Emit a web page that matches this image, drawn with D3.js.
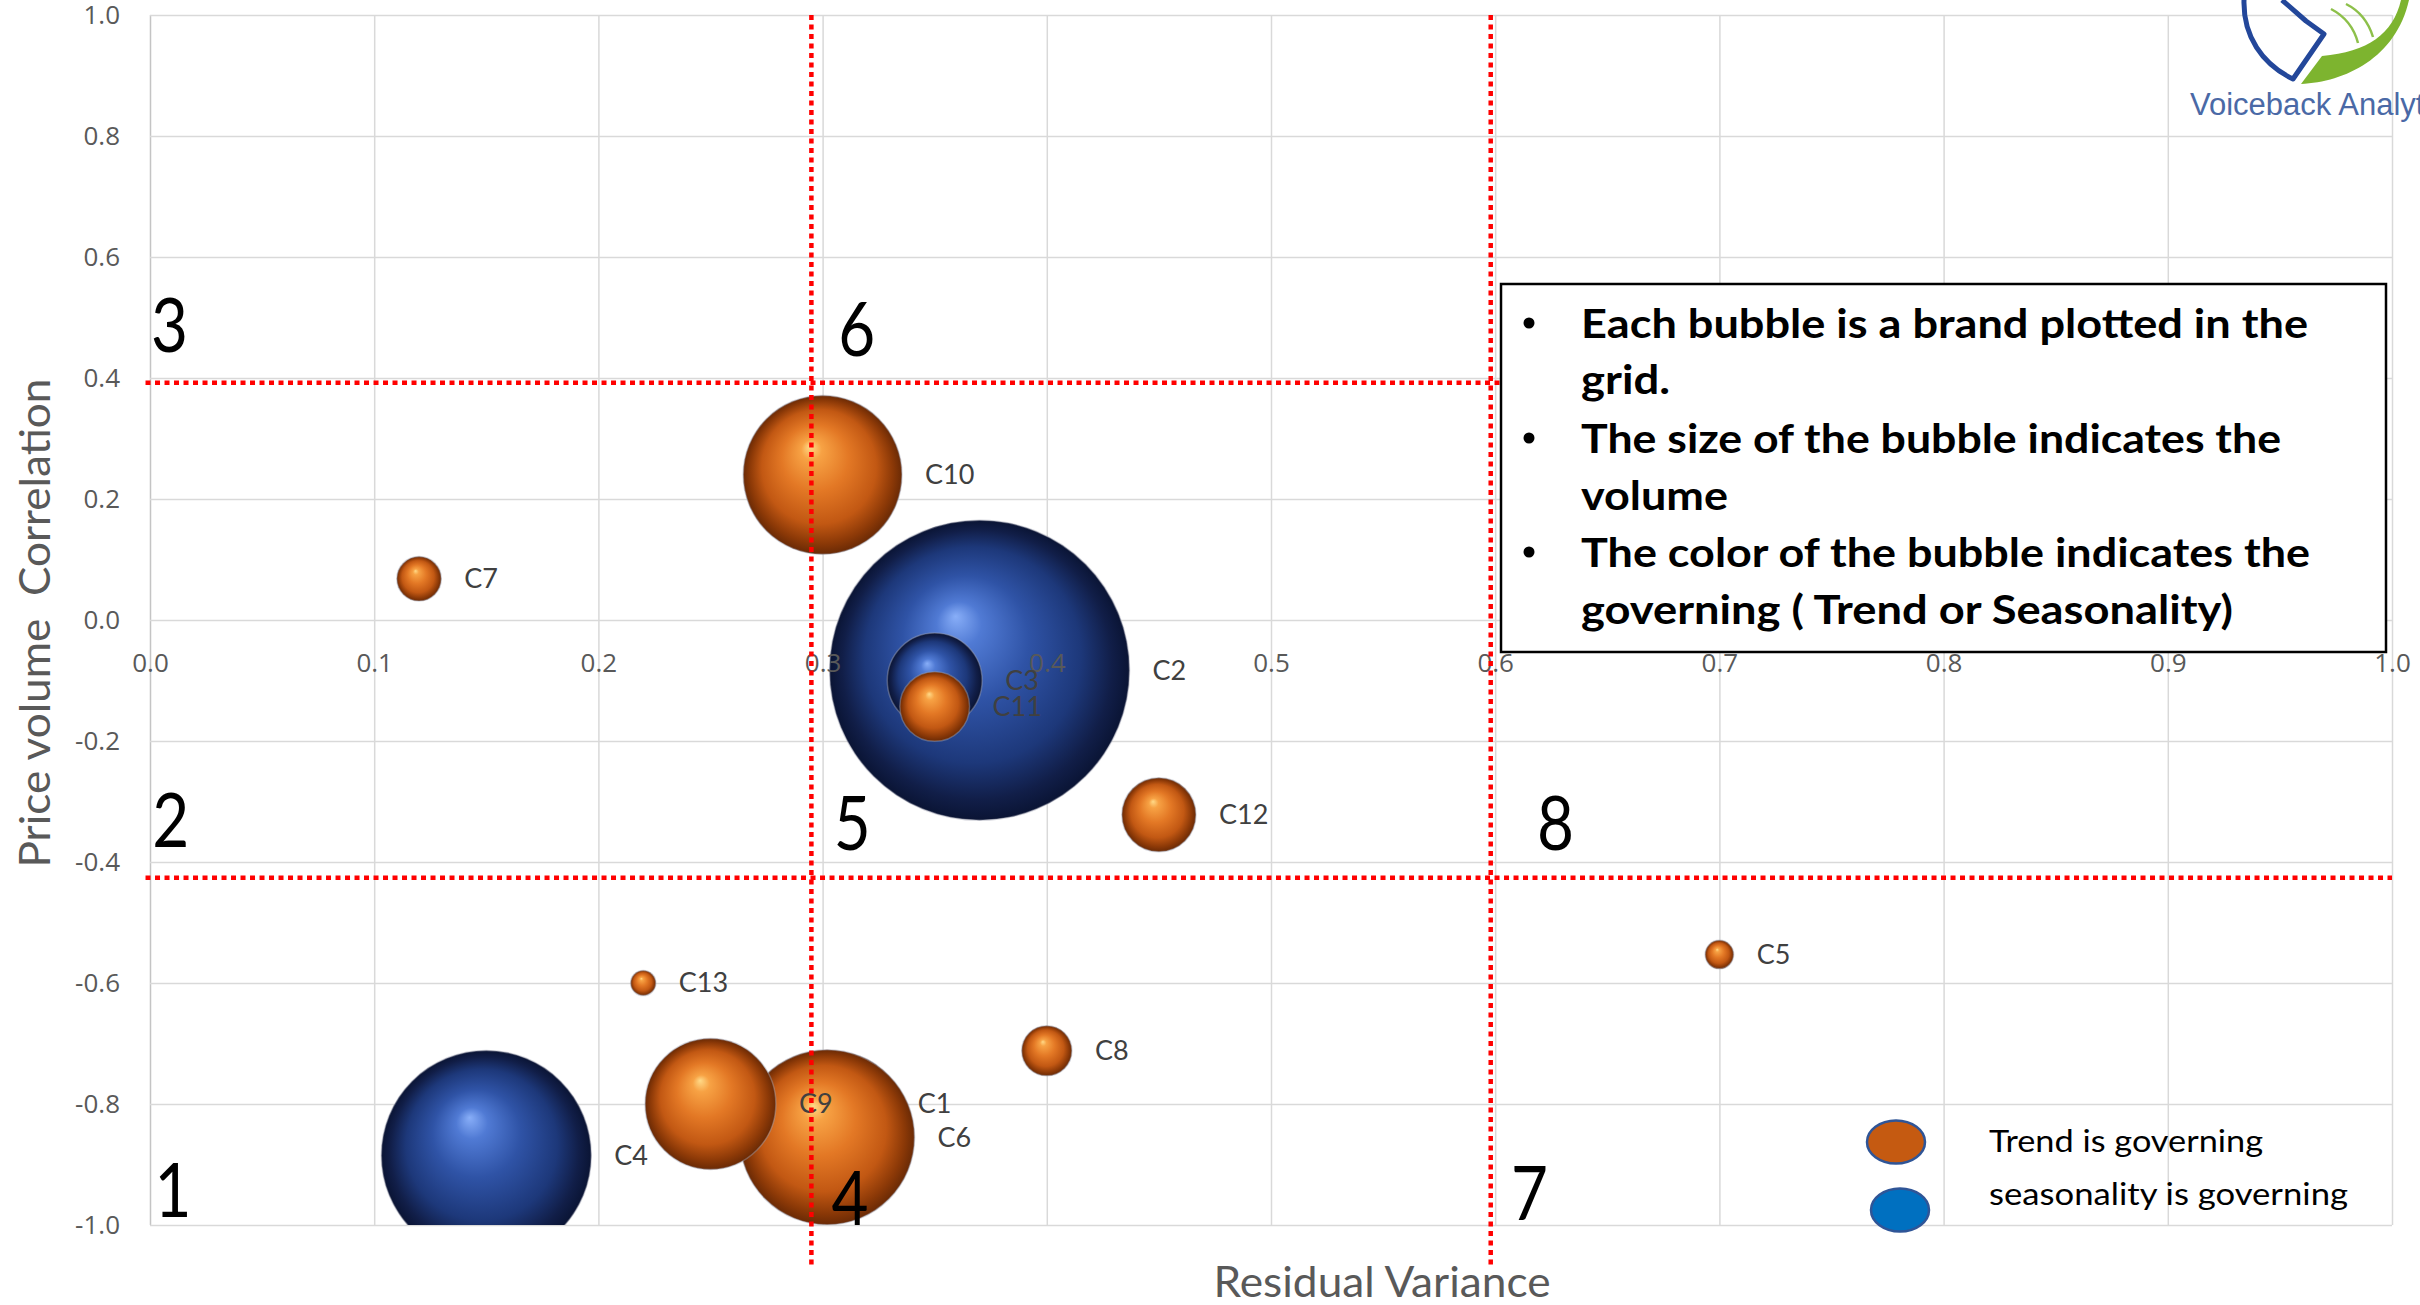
<!DOCTYPE html>
<html>
<head>
<meta charset="utf-8">
<script src="https://cdn.jsdelivr.net/npm/d3@7"></script>
<style>
  body { margin: 0; background: #fff; }
  .ticks text { font-family: 'Open Sans', sans-serif; font-size: 26px; fill: #595959; }
  .grid line { stroke: #D9D9D9; stroke-width: 1.5; }
  .bubbleLabel { font-family: Lato, sans-serif; font-size: 27px; fill: #404040; }
  .axisLabel { font-family: Lato, sans-serif; font-size: 42px; fill: #595959; }
  .zone { font-family: Lato, sans-serif; font-size: 76px; fill: #000; }
  .note { font-family: Lato, sans-serif; font-size: 40px; font-weight: 700; fill: #000; }
  .legendText { font-family: Lato, sans-serif; font-size: 30px; fill: #000; }
</style>
</head>
<body>
<div id="wrapper"></div>
<script>
'use strict';

// brands in plotting order (back to front)
const brands = ['C1', 'C2', 'C4', 'C6', 'C10', 'C9', 'C3', 'C12', 'C11', 'C8', 'C7', 'C5', 'C13'];
const residualVariance = [0.31, 0.37, 0.15, 0.302, 0.30, 0.25, 0.35, 0.45, 0.35, 0.40, 0.12, 0.70, 0.22];
const priceVolumeCorr = [-0.80, -0.083, -0.885, -0.855, 0.24, -0.80, -0.10, -0.322, -0.143, -0.712, 0.068, -0.553, -0.60];
const volume = [11, 100, 49, 34, 28, 19, 10, 6.1, 5.4, 2.8, 2.2, 0.9, 0.7];
const governing = ['Trend', 'Seasonality', 'Seasonality', 'Trend', 'Trend', 'Trend', 'Seasonality',
  'Trend', 'Trend', 'Trend', 'Trend', 'Trend', 'Trend'];

const xTicks = [0, 0.1, 0.2, 0.3, 0.4, 0.5, 0.6, 0.7, 0.8, 0.9, 1.0];
const yTicks = [-1.0, -0.8, -0.6, -0.4, -0.2, 0, 0.2, 0.4, 0.6, 0.8, 1.0];

// red cut-off lines (data units)
const xCuts = [0.295, 0.598];
const yCuts = [0.392, -0.426];
const yCutEnds = [0.603, 1.0];

// zone numbers and their anchors (data units)
const zoneNames = ['1', '2', '3', '4', '5', '6', '7', '8'];
const zoneX = [0.002, 0.001, 0.0005, 0.304, 0.305, 0.307, 0.607, 0.6186];
const zoneY = [-0.987, -0.375, 0.443, -1.0, -0.38, 0.436, -0.992, -0.38];

const noteLines = ['Each bubble is a brand plotted in the', 'grid.', 'The size of the bubble indicates the',
  'volume', 'The color of the bubble indicates the', 'governing ( Trend or Seasonality)'];
const noteBullets = [true, false, true, false, true, false];

const legendNames = ['Trend is governing', 'seasonality is governing'];
const legendColours = ['#C55A11', '#0070C0'];

function drawChart () {

  //#region ACCESS DATA
  const dataset = brands.map((name, i) => ({
    name,
    x: residualVariance[i],
    y: priceVolumeCorr[i],
    volume: volume[i],
    governing: governing[i]
  }));
  const xAccessor = d => d.x;
  const yAccessor = d => d.y;
  const sizeAccessor = d => d.volume;
  const colourAccessor = d => d.governing;
  //#endregion ACCESS DATA

  //#region CHART DIMENSIONS
  let dimensions = {
    width: 2420,
    height: 1305,
    margin: {top: 15, right: 28, bottom: 80, left: 150}
  };
  dimensions.plotWidth = dimensions.width - dimensions.margin.left - dimensions.margin.right;
  dimensions.plotHeight = dimensions.height - dimensions.margin.top - dimensions.margin.bottom;
  //#endregion CHART DIMENSIONS

  //#region DRAW CANVAS
  const wrapper = d3.select('#wrapper')
    .append('svg')
    .attr('width', dimensions.width)
    .attr('height', dimensions.height);

  const defs = wrapper.append('defs');
  const ballStops = {
    'orange-ball': [[0, '#FFDA88'], [0.13, '#F7A244'], [0.42, '#E37825'], [0.72, '#C25813'], [0.9, '#8C3907'], [1, '#6A2A05']],
    'blue-ball': [[0, '#88AEF8'], [0.15, '#507AD4'], [0.42, '#2F53A6'], [0.72, '#1D387A'], [0.9, '#111E48'], [1, '#0A1434']]
  };
  Object.entries(ballStops).forEach(([id, stops]) => {
    defs.append('radialGradient')
      .attr('id', id)
      .attr('cx', 0.5).attr('cy', 0.5).attr('r', 0.5)
      .attr('fx', 0.42).attr('fy', 0.32)
      .selectAll('stop')
      .data(stops)
      .join('stop')
      .attr('offset', d => d[0])
      .attr('stop-color', d => d[1]);
  });
  defs.append('clipPath').attr('id', 'plot-clip')
    .append('rect')
    .attr('width', dimensions.plotWidth)
    .attr('height', dimensions.plotHeight);

  const plot = wrapper.append('g')
    .attr('transform', `translate(${dimensions.margin.left}, ${dimensions.margin.top})`);
  //#endregion DRAW CANVAS

  //#region SCALES
  const xScale = d3.scaleLinear()
    .domain([0, 1])
    .range([0, dimensions.plotWidth]);
  const yScale = d3.scaleLinear()
    .domain([-1, 1])
    .range([dimensions.plotHeight, 0]);
  const rScale = d3.scaleSqrt()
    .domain([0, 100])
    .range([0, 150]);
  const colourScale = d3.scaleOrdinal()
    .domain(['Trend', 'Seasonality'])
    .range(['url(#orange-ball)', 'url(#blue-ball)']);
  //#endregion SCALES

  //#region GRID
  const xGrid = plot.append('g').attr('class', 'grid')
    .attr('transform', `translate(0, ${dimensions.plotHeight})`)
    .call(d3.axisBottom(xScale).tickValues(xTicks).tickSize(-dimensions.plotHeight).tickFormat(''));
  xGrid.select('.domain').remove();
  xGrid.selectAll('line').filter(d => d === 0).style('stroke', '#C4C4C4');

  const yGrid = plot.append('g').attr('class', 'grid')
    .call(d3.axisLeft(yScale).tickValues(yTicks).tickSize(-dimensions.plotWidth).tickFormat(''));
  yGrid.select('.domain').remove();
  //#endregion GRID

  //#region DRAW DATA
  plot.append('g')
    .attr('clip-path', 'url(#plot-clip)')
    .selectAll('circle')
    .data(dataset)
    .join('circle')
    .attr('cx', d => xScale(xAccessor(d)))
    .attr('cy', d => yScale(yAccessor(d)))
    .attr('r', d => rScale(sizeAccessor(d)))
    .attr('fill', d => colourScale(colourAccessor(d)))
    .attr('stroke', '#9EA0B0')
    .attr('stroke-opacity', 0.45)
    .attr('stroke-width', 1.5);
  //#endregion DRAW DATA

  //#region DRAW PERIPHERALS
  const xAxis = plot.append('g').attr('class', 'ticks')
    .attr('transform', `translate(0, ${yScale(0)})`)
    .call(d3.axisBottom(xScale).tickValues(xTicks).tickSize(0).tickPadding(34).tickFormat(d => d.toFixed(1)));
  xAxis.select('.domain').remove();

  const yAxis = plot.append('g').attr('class', 'ticks')
    .call(d3.axisLeft(yScale).tickValues(yTicks).tickSize(0).tickPadding(30).tickFormat(d => d.toFixed(1)));
  yAxis.select('.domain').remove();

  plot.append('g')
    .selectAll('text')
    .data(dataset)
    .join('text')
    .attr('class', 'bubbleLabel')
    .attr('x', d => xScale(xAccessor(d)) + rScale(sizeAccessor(d)) + 23)
    .attr('y', d => yScale(yAccessor(d)))
    .attr('dy', '0.35em')
    .text(d => d.name);

  // red dotted cut-off lines
  const cuts = plot.append('g')
    .attr('stroke', '#FF0000')
    .attr('stroke-width', 4.5)
    .attr('stroke-dasharray', '5 4.5');
  cuts.selectAll('.vcut')
    .data(xCuts)
    .join('line')
    .attr('x1', d => xScale(d)).attr('x2', d => xScale(d))
    .attr('y1', yScale(1)).attr('y2', yScale(-1.066));
  cuts.selectAll('.hcut')
    .data(yCuts)
    .join('line')
    .attr('x1', xScale(-0.002))
    .attr('x2', (d, i) => xScale(yCutEnds[i]))
    .attr('y1', d => yScale(d)).attr('y2', d => yScale(d));

  plot.append('g')
    .selectAll('text')
    .data(zoneNames)
    .join('text')
    .attr('class', 'zone')
    .attr('x', (d, i) => xScale(zoneX[i]))
    .attr('y', (d, i) => yScale(zoneY[i]))
    .attr('textLength', 37)
    .attr('lengthAdjust', 'spacingAndGlyphs')
    .text(d => d);

  // axis titles
  wrapper.append('text')
    .attr('class', 'axisLabel')
    .attr('x', 1382)
    .attr('y', 1297)
    .attr('text-anchor', 'middle')
    .attr('textLength', 337)
    .attr('lengthAdjust', 'spacingAndGlyphs')
    .text('Residual Variance');

  wrapper.append('text')
    .attr('class', 'axisLabel')
    .attr('transform', 'translate(50, 623) rotate(-90)')
    .attr('text-anchor', 'middle')
    .attr('textLength', 489)
    .attr('lengthAdjust', 'spacingAndGlyphs')
    .style('white-space', 'pre')
    .text('Price volume  Correlation');

  // note box
  const note = wrapper.append('g');
  note.append('rect')
    .attr('x', 1501).attr('y', 284)
    .attr('width', 885).attr('height', 368)
    .attr('fill', '#fff')
    .attr('stroke', '#000')
    .attr('stroke-width', 2.5);
  const noteBaselines = [338, 394, 453, 510, 567, 624];
  const noteWidths = [727, 89, 700, 147, 729, 652];
  note.selectAll('.line')
    .data(noteLines)
    .join('text')
    .attr('class', 'note')
    .attr('x', 1581)
    .attr('y', (d, i) => noteBaselines[i])
    .attr('textLength', (d, i) => noteWidths[i])
    .attr('lengthAdjust', 'spacingAndGlyphs')
    .text(d => d);
  note.selectAll('.bullet')
    .data(noteLines.map((d, i) => i).filter(i => noteBullets[i]))
    .join('circle')
    .attr('cx', 1529)
    .attr('cy', i => noteBaselines[i] - 15)
    .attr('r', 5.5)
    .attr('fill', '#000');

  // legend
  const legend = wrapper.append('g');
  legend.selectAll('ellipse')
    .data(legendColours)
    .join('ellipse')
    .attr('cx', (d, i) => 1896 + i * 4)
    .attr('cy', (d, i) => 1142 + i * 68)
    .attr('rx', 29)
    .attr('ry', 21.5)
    .attr('fill', d => d)
    .attr('stroke', '#2F5597')
    .attr('stroke-width', 2.5);
  legend.selectAll('text')
    .data(legendNames)
    .join('text')
    .attr('class', 'legendText')
    .attr('x', 1989)
    .attr('y', (d, i) => 1152 + i * 53)
    .attr('textLength', (d, i) => [274, 359][i])
    .attr('lengthAdjust', 'spacingAndGlyphs')
    .text(d => d);

  // logo, cut off by the right edge
  const logo = wrapper.append('g');
  logo.append('path')
    .attr('d', 'M 2244 0 C 2243 36, 2262 64, 2293 79 L 2324 34 L 2306 21 L 2282 0')
    .attr('fill', 'none')
    .attr('stroke', '#23479A')
    .attr('stroke-width', 5)
    .attr('stroke-linejoin', 'round');
  logo.append('path')
    .attr('d', 'M 2301 84 C 2345 82, 2396 58, 2409 0 L 2401 0 C 2393 34, 2368 52, 2322 56 Z')
    .attr('fill', '#7DB42F');
  logo.append('path')
    .attr('d', 'M 2331 9 Q 2352 20 2358 43 M 2346 4 Q 2366 14 2373 37')
    .attr('fill', 'none')
    .attr('stroke', '#8DC04A')
    .attr('stroke-width', 2.5);
  logo.append('text')
    .attr('x', 2190)
    .attr('y', 115)
    .attr('font-family', "'Liberation Sans', Arial, sans-serif")
    .attr('font-size', 31)
    .attr('fill', '#4A69A6')
    .text('Voiceback Analytics');
  //#endregion DRAW PERIPHERALS

}
drawChart();
</script>
</body>
</html>
